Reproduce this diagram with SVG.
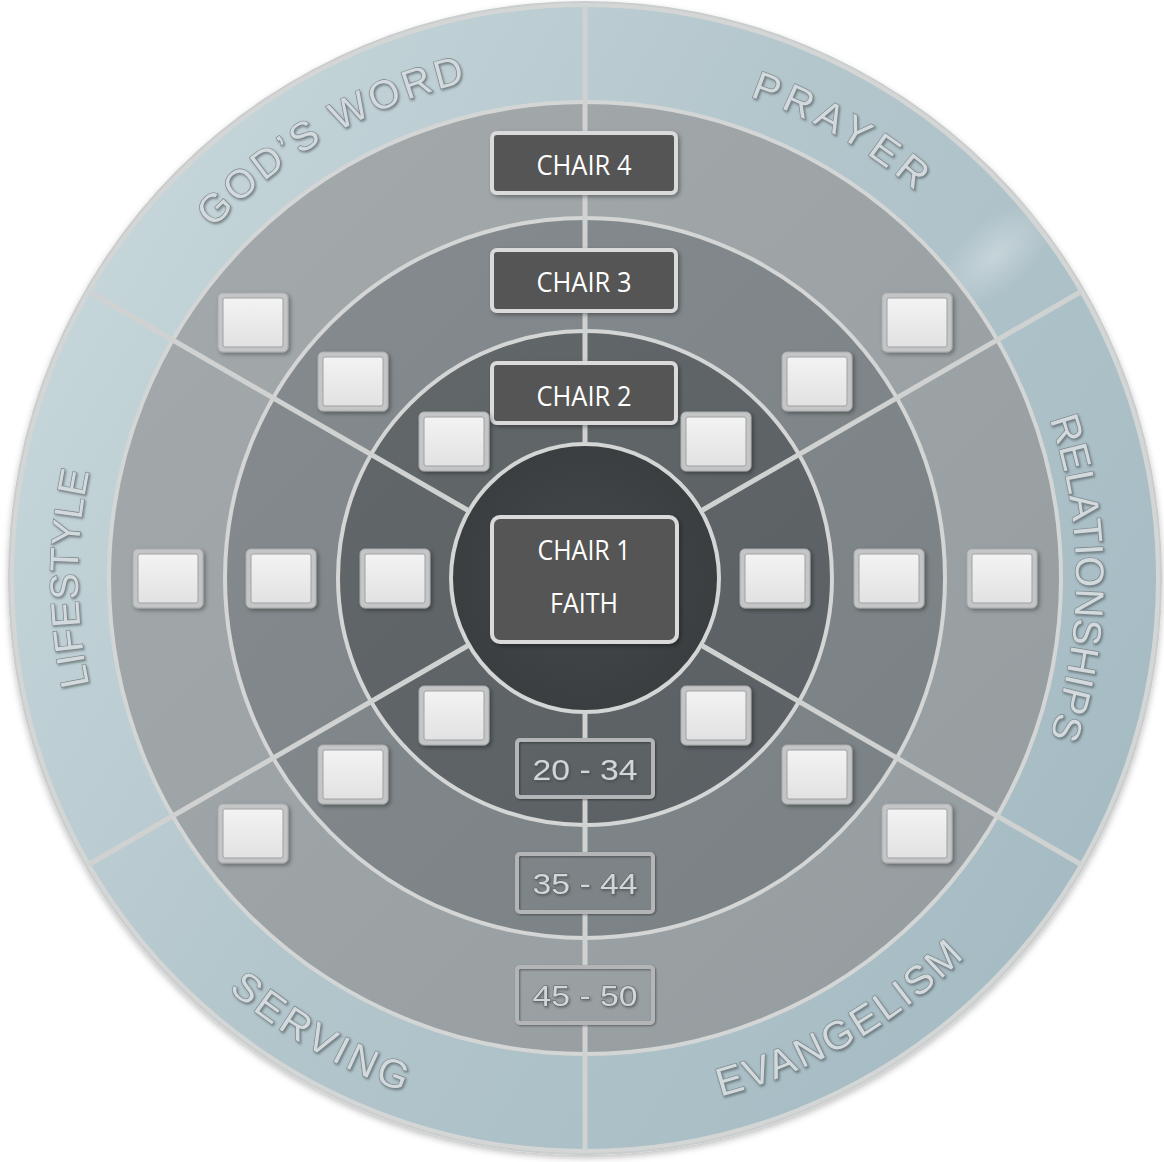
<svg xmlns="http://www.w3.org/2000/svg" xmlns:xlink="http://www.w3.org/1999/xlink" width="1164" height="1162" viewBox="0 0 1164 1162">
<defs>
  <linearGradient id="bandGrad" x1="0" y1="0.2" x2="1" y2="0.8">
    <stop offset="0" stop-color="#c8d8dc"/>
    <stop offset="0.45" stop-color="#b3c6cc"/>
    <stop offset="1" stop-color="#a4bac2"/>
  </linearGradient>
  <radialGradient id="glare" cx="0.5" cy="0.5" r="0.5">
    <stop offset="0" stop-color="#ffffff" stop-opacity="0.3"/>
    <stop offset="1" stop-color="#ffffff" stop-opacity="0"/>
  </radialGradient>
  <linearGradient id="r3Grad" x1="0" y1="0" x2="1" y2="1">
    <stop offset="0" stop-color="#a4aaac"/>
    <stop offset="1" stop-color="#959c9f"/>
  </linearGradient>
  <linearGradient id="r2Grad" x1="0" y1="0" x2="1" y2="1">
    <stop offset="0" stop-color="#858b8e"/>
    <stop offset="1" stop-color="#7a8184"/>
  </linearGradient>
  <linearGradient id="r1Grad" x1="0" y1="0" x2="1" y2="1">
    <stop offset="0" stop-color="#62686a"/>
    <stop offset="1" stop-color="#5a6063"/>
  </linearGradient>
  <radialGradient id="r0Grad" cx="0.5" cy="0.5" r="0.5">
    <stop offset="0" stop-color="#45494b"/>
    <stop offset="1" stop-color="#3a3e40"/>
  </radialGradient>
  <linearGradient id="sqGrad" x1="0" y1="0" x2="0" y2="1">
    <stop offset="0" stop-color="#f3f3f3"/>
    <stop offset="1" stop-color="#e2e2e2"/>
  </linearGradient>
  <filter id="shadow" x="-20%" y="-20%" width="140%" height="150%">
    <feDropShadow dx="2" dy="2" stdDeviation="2" flood-color="#000" flood-opacity="0.35"/>
  </filter>
  <filter id="thinShadow" x="-10%" y="-10%" width="120%" height="130%">
    <feDropShadow dx="1" dy="1" stdDeviation="0.8" flood-color="#000" flood-opacity="0.4"/>
  </filter>
  <filter id="emboss" x="-10%" y="-10%" width="120%" height="130%">
    <feDropShadow dx="1.2" dy="1.5" stdDeviation="1" flood-color="#3a4246" flood-opacity="0.55"/>
  </filter>
  <filter id="outerShadow" x="-5%" y="-5%" width="110%" height="112%">
    <feDropShadow dx="0" dy="3" stdDeviation="3" flood-color="#000" flood-opacity="0.25"/>
  </filter>
  <path id="pGod" d="M 92.4 445.4 A 510 510 0 0 1 717.0 85.4"/>
  <path id="pPrayer" d="M 453.3 86.4 A 509 509 0 0 1 1076.6 446.3"/>
  <path id="pRel" d="M 932.2 230.8 A 491 491 0 0 1 932.2 925.2"/>
  <path id="pLife" d="M 226.5 936.5 A 507 507 0 0 1 226.5 219.5"/>
  <path id="pEvan" d="M 446.2 1095.8 A 536 536 0 0 0 1102.7 716.7"/>
  <path id="pServ" d="M 58.6 719.1 A 545 545 0 0 0 726.1 1104.4"/>
</defs>
<style>
  .ringline { fill: none; stroke: #d4d6d6; stroke-width: 4; }
  .spoke { stroke: #d0d2d2; stroke-width: 5; stroke-linecap: butt; }
  .chair rect { fill: #555555; stroke: #dadada; stroke-width: 4; filter: url(#shadow); }
  .chair text { font-family: "Open Sans", "Noto Sans", sans-serif; font-size: 27px; fill: #ffffff; text-anchor: middle; }
  .age rect { fill: none; stroke: #b3b5b6; stroke-width: 4; filter: url(#thinShadow); }
  .age text { font-family: "Liberation Sans", Arial, sans-serif; font-size: 30px; fill: #d2d6d7; stroke: #5d6366; stroke-width: 1; paint-order: stroke; text-anchor: middle; filter: url(#emboss); }
  .sq .frame { fill: #c3c5c6; stroke: #a9abac; stroke-width: 1; filter: url(#shadow); }
  .sq .face { fill: url(#sqGrad); stroke: #9fa1a2; stroke-width: 1; }
  .lbl { font-family: "Liberation Sans", Arial, sans-serif; font-size: 40px; fill: #d3dadd; stroke: #7a8387; stroke-width: 1.2; paint-order: stroke; filter: url(#emboss); }
</style>

<g id="background">
  <circle cx="585" cy="578" r="577" fill="#c9cdce" filter="url(#outerShadow)"/>
  <circle cx="585" cy="578" r="573" fill="url(#bandGrad)"/>
  <ellipse cx="995" cy="255" rx="70" ry="35" transform="rotate(-40 995 255)" fill="url(#glare)"/>
  <circle cx="585" cy="578" r="476" fill="url(#r3Grad)"/>
  <circle cx="585" cy="578" r="360" fill="url(#r2Grad)"/>
  <circle cx="585" cy="578" r="247" fill="url(#r1Grad)"/>
  <circle cx="585" cy="578" r="134" fill="url(#r0Grad)"/>
  <circle class="ringline" cx="585" cy="578" r="573" stroke="#b8bcbd" stroke-width="3"/>
  <circle class="ringline" cx="585" cy="578" r="476"/>
  <circle class="ringline" cx="585" cy="578" r="360"/>
  <circle class="ringline" cx="585" cy="578" r="247"/>
  <circle class="ringline" cx="585" cy="578" r="134"/>
</g>

<g id="connectors">
  <line class="spoke" x1="701.0" y1="511.0" x2="1081.2" y2="291.5"/>
  <line class="spoke" x1="469.0" y1="511.0" x2="88.8" y2="291.5"/>
  <line class="spoke" x1="469.0" y1="645.0" x2="88.8" y2="864.5"/>
  <line class="spoke" x1="701.0" y1="645.0" x2="1081.2" y2="864.5"/>
  <line class="spoke" x1="585" y1="5" x2="585" y2="133"/>
  <line class="spoke" x1="585" y1="193" x2="585" y2="250"/>
  <line class="spoke" x1="585" y1="311" x2="585" y2="363"/>
  <line class="spoke" x1="585" y1="423" x2="585" y2="444"/>
  <line class="spoke" x1="585" y1="712" x2="585" y2="740"/>
  <line class="spoke" x1="585" y1="797" x2="585" y2="854"/>
  <line class="spoke" x1="585" y1="912" x2="585" y2="967"/>
  <line class="spoke" x1="585" y1="1023" x2="585" y2="1151"/>
</g>

<g id="label-gods-word"><text class="lbl" letter-spacing="3.5"><textPath href="#pGod" xlink:href="#pGod" startOffset="50%" text-anchor="middle">GOD’S WORD</textPath></text></g>
<g id="label-prayer"><text class="lbl" letter-spacing="6"><textPath href="#pPrayer" xlink:href="#pPrayer" startOffset="50%" text-anchor="middle">PRAYER</textPath></text></g>
<g id="label-relationships"><text class="lbl" letter-spacing="0.5"><textPath href="#pRel" xlink:href="#pRel" startOffset="50%" text-anchor="middle">RELATIONSHIPS</textPath></text></g>
<g id="label-evangelism"><text class="lbl" letter-spacing="3"><textPath href="#pEvan" xlink:href="#pEvan" startOffset="50%" text-anchor="middle">EVANGELISM</textPath></text></g>
<g id="label-serving"><text class="lbl" letter-spacing="4"><textPath href="#pServ" xlink:href="#pServ" startOffset="50%" text-anchor="middle">SERVING</textPath></text></g>
<g id="label-lifestyle"><text class="lbl" letter-spacing="0.5"><textPath href="#pLife" xlink:href="#pLife" startOffset="50%" text-anchor="middle">LIFESTYLE</textPath></text></g>

<g id="chair4" class="chair"><rect x="492" y="133" width="184" height="60" rx="5"/><text x="584" y="175" textLength="95" lengthAdjust="spacingAndGlyphs">CHAIR 4</text></g>
<g id="chair3" class="chair"><rect x="492" y="250" width="184" height="61" rx="5"/><text x="584" y="292" textLength="95" lengthAdjust="spacingAndGlyphs">CHAIR 3</text></g>
<g id="chair2" class="chair"><rect x="492" y="363" width="184" height="60" rx="5"/><text x="584" y="406" textLength="95" lengthAdjust="spacingAndGlyphs">CHAIR 2</text></g>
<g id="chair1" class="chair"><rect x="492" y="517" width="185" height="125" rx="8"/><text x="584" y="560" textLength="93" lengthAdjust="spacingAndGlyphs">CHAIR 1</text><text x="584" y="613" textLength="68" lengthAdjust="spacingAndGlyphs">FAITH</text></g>

<g id="age-20-34" class="age"><rect x="517" y="740" width="136" height="57" rx="3"/><text x="585" y="780" textLength="105" lengthAdjust="spacingAndGlyphs">20 - 34</text></g>
<g id="age-35-44" class="age"><rect x="517" y="854" width="136" height="58" rx="3"/><text x="585" y="894" textLength="105" lengthAdjust="spacingAndGlyphs">35 - 44</text></g>
<g id="age-45-50" class="age"><rect x="517" y="967" width="136" height="56" rx="3"/><text x="585" y="1006" textLength="105" lengthAdjust="spacingAndGlyphs">45 - 50</text></g>

<g id="sq-l1" class="sq"><rect class="frame" x="133" y="549" width="70" height="59" rx="5"/><rect class="face" x="138" y="554" width="60" height="49" rx="2"/></g>
<g id="sq-l2" class="sq"><rect class="frame" x="246" y="549" width="70" height="59" rx="5"/><rect class="face" x="251" y="554" width="60" height="49" rx="2"/></g>
<g id="sq-l3" class="sq"><rect class="frame" x="360" y="549" width="70" height="59" rx="5"/><rect class="face" x="365" y="554" width="60" height="49" rx="2"/></g>
<g id="sq-r1" class="sq"><rect class="frame" x="740" y="549" width="70" height="59" rx="5"/><rect class="face" x="745" y="554" width="60" height="49" rx="2"/></g>
<g id="sq-r2" class="sq"><rect class="frame" x="854" y="549" width="70" height="59" rx="5"/><rect class="face" x="859" y="554" width="60" height="49" rx="2"/></g>
<g id="sq-r3" class="sq"><rect class="frame" x="967" y="549" width="70" height="59" rx="5"/><rect class="face" x="972" y="554" width="60" height="49" rx="2"/></g>
<g id="sq-ul1" class="sq"><rect class="frame" x="218" y="293" width="70" height="59" rx="5"/><rect class="face" x="223" y="298" width="60" height="49" rx="2"/></g>
<g id="sq-ul2" class="sq"><rect class="frame" x="318" y="352" width="70" height="59" rx="5"/><rect class="face" x="323" y="357" width="60" height="49" rx="2"/></g>
<g id="sq-ul3" class="sq"><rect class="frame" x="419" y="412" width="70" height="59" rx="5"/><rect class="face" x="424" y="417" width="60" height="49" rx="2"/></g>
<g id="sq-ur1" class="sq"><rect class="frame" x="882" y="293" width="70" height="59" rx="5"/><rect class="face" x="887" y="298" width="60" height="49" rx="2"/></g>
<g id="sq-ur2" class="sq"><rect class="frame" x="782" y="352" width="70" height="59" rx="5"/><rect class="face" x="787" y="357" width="60" height="49" rx="2"/></g>
<g id="sq-ur3" class="sq"><rect class="frame" x="681" y="412" width="70" height="59" rx="5"/><rect class="face" x="686" y="417" width="60" height="49" rx="2"/></g>
<g id="sq-ll1" class="sq"><rect class="frame" x="419" y="686" width="70" height="59" rx="5"/><rect class="face" x="424" y="691" width="60" height="49" rx="2"/></g>
<g id="sq-ll2" class="sq"><rect class="frame" x="318" y="745" width="70" height="59" rx="5"/><rect class="face" x="323" y="750" width="60" height="49" rx="2"/></g>
<g id="sq-ll3" class="sq"><rect class="frame" x="218" y="804" width="70" height="59" rx="5"/><rect class="face" x="223" y="809" width="60" height="49" rx="2"/></g>
<g id="sq-lr1" class="sq"><rect class="frame" x="681" y="686" width="70" height="59" rx="5"/><rect class="face" x="686" y="691" width="60" height="49" rx="2"/></g>
<g id="sq-lr2" class="sq"><rect class="frame" x="782" y="745" width="70" height="59" rx="5"/><rect class="face" x="787" y="750" width="60" height="49" rx="2"/></g>
<g id="sq-lr3" class="sq"><rect class="frame" x="882" y="804" width="70" height="59" rx="5"/><rect class="face" x="887" y="809" width="60" height="49" rx="2"/></g>
</svg>
